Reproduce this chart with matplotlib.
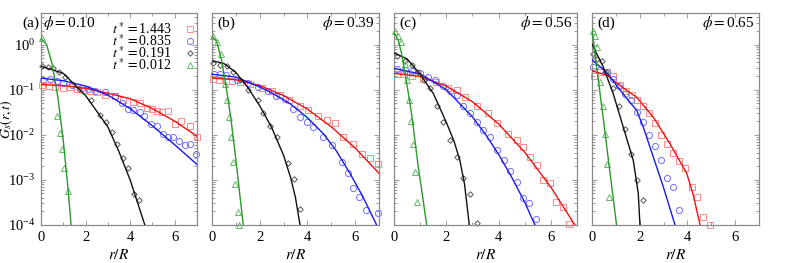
import matplotlib
matplotlib.use("Agg")
import matplotlib.pyplot as plt
from matplotlib.ticker import LogLocator, MultipleLocator, NullFormatter, FixedLocator

plt.rcParams['font.family'] = ['Liberation Serif', 'DejaVu Serif']
plt.rcParams['mathtext.fontset'] = 'stix'

phis = ["0.10", "0.39", "0.56", "0.65"]
panel_labels = ["(a)", "(b)", "(c)", "(d)"]
times = ["1.443", "0.835", "0.191", "0.012"]

# ---------------- panel (a) ----------------
a_red_line_r = [0, 1, 2, 3, 4, 5, 6, 7]
a_red_line_g = [0.129, 0.123, 0.107, 0.083, 0.063, 0.038, 0.02, 0.0093]
a_red_pts_r = [0.05, 0.35, 0.65, 1.0, 1.3, 1.6, 1.9, 2.2, 2.5, 2.87, 3.32, 3.7, 4.14, 4.44, 4.74, 4.96, 5.19, 5.41, 5.71, 6.0, 6.3, 6.68, 6.98]
a_red_pts_g = [0.129, 0.12, 0.112, 0.11, 0.112, 0.105, 0.1, 0.095, 0.089, 0.078, 0.071, 0.059, 0.052, 0.05, 0.04, 0.038, 0.033, 0.032, 0.033, 0.017, 0.02, 0.0155, 0.0089]
a_blue_line_r = [0, 1, 2, 3, 4, 5, 6, 7]
a_blue_line_g = [0.18, 0.158, 0.12, 0.076, 0.038, 0.0158, 0.006, 0.0022]
a_blue_pts_r = [0.1, 0.4, 0.7, 1.0, 1.4, 1.82, 2.1, 2.42, 2.87, 3.3, 3.64, 3.92, 4.14, 4.44, 4.63, 4.93, 5.19, 5.46, 5.71, 5.93, 6.2, 6.46, 6.68, 6.95]
a_blue_pts_g = [0.166, 0.17, 0.158, 0.138, 0.126, 0.11, 0.102, 0.095, 0.087, 0.071, 0.05, 0.038, 0.035, 0.032, 0.026, 0.017, 0.016, 0.0102, 0.0089, 0.0089, 0.0072, 0.0059, 0.0063, 0.0037]
a_black_line_r = [0, 1, 2, 3, 3.5, 4, 4.3, 4.66]
a_black_line_g = [0.33, 0.23, 0.074, 0.015, 0.0042, 0.001, 0.00035, 0.0001]
a_black_pts_r = [0.05, 0.3, 0.55, 0.8, 1.08, 1.7, 2.23, 2.65, 2.92, 3.17, 3.42, 3.66, 3.92, 4.17, 4.41]
a_black_pts_g = [0.34, 0.32, 0.30, 0.25, 0.19, 0.105, 0.058, 0.027, 0.019, 0.0115, 0.0062, 0.003, 0.0018, 0.00048, 0.00035]
a_green_line_r = [0, 0.25, 0.5, 0.75, 1.0, 1.2, 1.35]
a_green_line_g = [1.38, 1.0, 0.37, 0.072, 0.0074, 0.00074, 0.0001]
a_green_pts_r = [0.03, 0.73, 0.85, 0.93, 1.05, 1.2]
a_green_pts_g = [1.38, 0.026, 0.011, 0.0049, 0.0018, 0.00058]

# ---------------- panel (b) ----------------
b_red_line_r = [0, 1, 2, 3, 4, 5, 6, 7]
b_red_line_g = [0.18, 0.166, 0.123, 0.074, 0.037, 0.015, 0.0051, 0.0014]
b_red_pts_r = [0.05, 0.3, 0.6, 0.85, 1.17, 1.59, 2.08, 2.5, 2.85, 3.24, 3.69, 4.03, 4.46, 4.8, 5.15, 5.5, 5.92, 6.27, 6.62, 6.97]
b_red_pts_g = [0.17, 0.166, 0.158, 0.155, 0.15, 0.135, 0.11, 0.093, 0.078, 0.058, 0.043, 0.035, 0.026, 0.021, 0.018, 0.0091, 0.0062, 0.0038, 0.003, 0.0022]
b_blue_line_r = [0, 1, 1.87, 2.5, 3.27, 4, 4.67, 5.2, 5.78, 6.3, 6.9]
b_blue_line_g = [0.22, 0.19, 0.123, 0.085, 0.049, 0.024, 0.0105, 0.0045, 0.0014, 0.00045, 0.0001]
b_blue_pts_r = [0.1, 0.35, 0.6, 1.03, 1.5, 1.94, 2.36, 2.68, 3.06, 3.41, 3.69, 3.97, 4.25, 4.66, 5.01, 5.43, 5.71, 5.92, 6.17, 6.45, 6.97]
b_blue_pts_g = [0.22, 0.22, 0.21, 0.16, 0.14, 0.112, 0.095, 0.074, 0.063, 0.038, 0.025, 0.019, 0.015, 0.0089, 0.0059, 0.0025, 0.0014, 0.00065, 0.00042, 0.00021, 0.00018]
b_black_line_r = [0, 0.5, 1.0, 1.5, 2.0, 2.5, 3.0, 3.3, 3.5, 3.69]
b_black_line_g = [0.44, 0.38, 0.24, 0.112, 0.044, 0.0145, 0.0035, 0.0011, 0.0004, 0.0001]
b_black_pts_r = [0.06, 0.34, 0.61, 0.9, 1.17, 1.52, 1.94, 2.15, 2.43, 2.71, 3.2, 3.44, 3.69]
b_black_pts_g = [0.38, 0.36, 0.34, 0.25, 0.16, 0.1, 0.058, 0.03, 0.016, 0.0089, 0.0024, 0.00105, 0.00023]
b_green_line_r = [0, 0.2, 0.4, 0.6, 0.8, 1.0, 1.15, 1.31]
b_green_line_g = [1.55, 1.15, 0.45, 0.11, 0.021, 0.0028, 0.00056, 0.0001]
b_green_pts_r = [0.03, 0.2, 0.36, 0.54, 0.64, 0.73, 0.81, 0.89, 0.96, 1.08, 1.15]
b_green_pts_g = [1.58, 1.12, 0.62, 0.135, 0.058, 0.025, 0.0089, 0.0025, 0.00083, 0.00019, 0.000102]

# ---------------- panel (c) ----------------
c_red_line_r = [0, 1, 2, 3, 4, 5, 6, 6.92]
c_red_line_g = [0.23, 0.195, 0.12, 0.054, 0.0174, 0.0041, 0.00069, 0.0001]
c_red_pts_r = [0.1, 0.4, 0.7, 1.12, 1.6, 2.08, 2.4, 2.72, 3.19, 3.61, 3.93, 4.37, 4.69, 4.95, 5.2, 5.46, 5.71, 5.97, 6.2, 6.46, 6.71]
c_red_pts_g = [0.219, 0.219, 0.2, 0.174, 0.151, 0.11, 0.1, 0.068, 0.043, 0.03, 0.018, 0.0105, 0.0078, 0.0054, 0.0032, 0.0021, 0.00098, 0.00085, 0.00032, 0.00025, 0.000105]
c_blue_line_r = [0, 1, 2, 3, 3.5, 4, 4.5, 5, 5.39]
c_blue_line_g = [0.295, 0.224, 0.1, 0.025, 0.0102, 0.0037, 0.00115, 0.00032, 0.0001]
c_blue_pts_r = [0.1, 0.42, 0.68, 0.99, 1.31, 1.56, 1.89, 2.14, 2.4, 2.65, 2.91, 3.16, 3.42, 3.67, 3.93, 4.21, 4.44, 4.7, 4.93, 5.18, 5.43]
c_blue_pts_g = [0.28, 0.275, 0.263, 0.229, 0.186, 0.166, 0.123, 0.095, 0.078, 0.043, 0.03, 0.019, 0.013, 0.0089, 0.0046, 0.0028, 0.0016, 0.00091, 0.00039, 0.00031, 0.000135]
c_black_line_r = [0, 0.5, 1.0, 1.5, 2.0, 2.3, 2.52, 2.7, 2.88]
c_black_line_g = [0.65, 0.48, 0.22, 0.083, 0.019, 0.0071, 0.0027, 0.00079, 0.0001]
c_black_pts_r = [0.1, 0.42, 0.68, 0.93, 1.15, 1.38, 1.66, 1.89, 2.14, 2.42, 2.65, 2.9, 3.16]
c_black_pts_g = [0.56, 0.44, 0.35, 0.24, 0.166, 0.11, 0.043, 0.019, 0.0078, 0.0032, 0.0011, 0.00048, 0.000112]
c_green_line_r = [0, 0.17, 0.29, 0.42, 0.55, 0.68, 0.8, 0.93, 1.06, 1.25]
c_green_line_g = [1.86, 1.21, 0.62, 0.24, 0.081, 0.027, 0.0076, 0.0019, 0.00059, 0.0001]
c_green_pts_r = [0.02, 0.17, 0.26, 0.42, 0.49, 0.57, 0.64, 0.74, 0.8, 0.89]
c_green_pts_g = [1.95, 1.55, 1.12, 0.37, 0.16, 0.059, 0.02, 0.0062, 0.0015, 0.00033]

# ---------------- panel (d) ----------------
d_red_line_r = [0, 0.62, 1.17, 1.87, 2.57, 3.27, 3.97, 4.25, 4.53]
d_red_line_g = [0.26, 0.21, 0.123, 0.068, 0.0245, 0.0063, 0.0014, 0.00045, 0.0001]
d_red_pts_r = [0.08, 0.35, 0.62, 0.89, 1.17, 1.43, 1.66, 1.9, 2.15, 2.4, 2.64, 2.89, 3.16, 3.41, 3.66, 3.9, 4.18, 4.41, 4.66, 4.95]
d_red_pts_g = [0.2, 0.24, 0.25, 0.2, 0.129, 0.095, 0.078, 0.06, 0.043, 0.03, 0.018, 0.0098, 0.0063, 0.004, 0.0026, 0.0018, 0.00068, 0.00041, 0.00015, 0.0001]
d_blue_line_r = [0, 0.62, 1.03, 1.52, 1.87, 2.15, 2.57, 2.99, 3.48]
d_blue_line_g = [0.46, 0.24, 0.123, 0.058, 0.035, 0.0148, 0.0032, 0.0007, 0.0001]
d_blue_pts_r = [0.06, 0.34, 0.62, 0.87, 1.14, 1.38, 1.62, 1.87, 2.15, 2.4, 2.64, 2.89, 3.16, 3.41, 3.66]
d_blue_pts_g = [0.32, 0.27, 0.24, 0.174, 0.123, 0.081, 0.058, 0.032, 0.019, 0.0098, 0.0055, 0.0028, 0.0011, 0.0007, 0.00021]
d_black_line_r = [0, 0.47, 0.89, 1.31, 1.73, 1.94, 2.01]
d_black_line_g = [1.02, 0.32, 0.081, 0.0148, 0.0027, 0.0005, 0.0001]
d_black_pts_r = [0.06, 0.2, 0.4, 0.6, 0.87, 1.14, 1.38, 1.62, 1.87, 2.12]
d_black_pts_g = [0.62, 0.47, 0.43, 0.25, 0.11, 0.043, 0.0135, 0.0038, 0.001, 0.00035]
d_green_line_r = [0, 0.25, 0.5, 0.75, 1.03]
d_green_line_g = [2.19, 0.19, 0.0174, 0.0015, 0.0001]
d_green_pts_r = [0.04, 0.13, 0.22, 0.34, 0.45, 0.54, 0.62, 0.71]
d_green_pts_g = [2.0, 1.55, 0.87, 0.145, 0.043, 0.0105, 0.0022, 0.00041]

panels = [
    dict(red=(a_red_line_r, a_red_line_g, a_red_pts_r, a_red_pts_g),
         blue=(a_blue_line_r, a_blue_line_g, a_blue_pts_r, a_blue_pts_g),
         black=(a_black_line_r, a_black_line_g, a_black_pts_r, a_black_pts_g),
         green=(a_green_line_r, a_green_line_g, a_green_pts_r, a_green_pts_g)),
    dict(red=(b_red_line_r, b_red_line_g, b_red_pts_r, b_red_pts_g),
         blue=(b_blue_line_r, b_blue_line_g, b_blue_pts_r, b_blue_pts_g),
         black=(b_black_line_r, b_black_line_g, b_black_pts_r, b_black_pts_g),
         green=(b_green_line_r, b_green_line_g, b_green_pts_r, b_green_pts_g)),
    dict(red=(c_red_line_r, c_red_line_g, c_red_pts_r, c_red_pts_g),
         blue=(c_blue_line_r, c_blue_line_g, c_blue_pts_r, c_blue_pts_g),
         black=(c_black_line_r, c_black_line_g, c_black_pts_r, c_black_pts_g),
         green=(c_green_line_r, c_green_line_g, c_green_pts_r, c_green_pts_g)),
    dict(red=(d_red_line_r, d_red_line_g, d_red_pts_r, d_red_pts_g),
         blue=(d_blue_line_r, d_blue_line_g, d_blue_pts_r, d_blue_pts_g),
         black=(d_black_line_r, d_black_line_g, d_black_pts_r, d_black_pts_g),
         green=(d_green_line_r, d_green_line_g, d_green_pts_r, d_green_pts_g)),
]

styles = {
    'red':   dict(line='#ee1111', mcol='#ff8a8a', marker='s', ms=4.2),
    'blue':  dict(line='#1a1aee', mcol='#6f6fff', marker='o', ms=4.4),
    'black': dict(line='#111111', mcol='#555555', marker='D', ms=2.8),
    'green': dict(line='#2a9a2a', mcol='#66b866', marker='^', ms=4.0),
}
order = ['red', 'blue', 'black', 'green']

W, H = 789, 263
fig = plt.figure(figsize=(W / 100, H / 100), dpi=100)
boxes = [(41, 197), (212, 379), (394, 577), (592, 759)]
top_px, bot_px = 13, 225
spine_col = '#8a8a8a'

for i, (l, r) in enumerate(boxes):
    ax = fig.add_axes([l / W, (H - bot_px) / H, (r - l) / W, (bot_px - top_px) / H])
    ax.set_yscale('log')
    ax.set_xlim(0, 7)
    ax.set_ylim(1e-4, 5)
    for key in order:
        lr, lg, pr, pg = panels[i][key]
        st = styles[key]
        ax.plot(lr, lg, '-', color=st['line'], lw=1.0, zorder=3)
        ax.plot(pr, pg, linestyle='none', marker=st['marker'], ms=st['ms'],
                mfc='none', mec=st['mcol'], mew=0.7, zorder=2, clip_on=False)
    for s in ax.spines.values():
        s.set_color(spine_col)
        s.set_linewidth(0.9)
    ax.xaxis.set_major_locator(FixedLocator([0, 2, 4, 6]))
    ax.xaxis.set_minor_locator(MultipleLocator(1))
    ax.yaxis.set_major_locator(LogLocator(base=10, numticks=10))
    ax.yaxis.set_minor_locator(LogLocator(base=10, subs=[2, 3, 4, 5, 6, 7, 8, 9], numticks=20))
    ax.yaxis.set_minor_formatter(NullFormatter())
    ax.tick_params(which='both', direction='in', top=True, right=True, color=spine_col,
                   labelsize=10.5, width=0.6)
    ax.tick_params(which='major', length=3.5, pad=4)
    ax.tick_params(which='minor', length=2)
    ax.set_xlabel(r'$r/R$', fontsize=11, labelpad=3)
    if i == 0:
        ax.set_ylabel(r'$G_s(r,t)$', fontsize=10)
        ax.yaxis.set_label_coords(-0.165, 0.5)
        ax.text(-0.012, 0.953, panel_labels[i], transform=ax.transAxes, fontsize=11,
                ha='right', va='center')
        ax.text(0.01, 0.953, r'$\phi = $' + phis[i], transform=ax.transAxes, fontsize=11,
                ha='left', va='center')
        # legend: text followed by marker, as in the reference
        leg_y = [0.925, 0.868, 0.811, 0.755]
        for key, t, yy in zip(order, times, leg_y):
            st = styles[key]
            ax.text(0.455, yy, r'$t^* = $' + t, transform=ax.transAxes, fontsize=10,
                    ha='left', va='center')
            ax.plot([0.955], [yy], transform=ax.transAxes, linestyle='none',
                    marker=st['marker'], ms=st['ms'], mfc='none', mec=st['mcol'],
                    mew=0.7, clip_on=False)
    else:
        ax.set_yticklabels([])
        ax.text(0.03, 0.953, panel_labels[i], transform=ax.transAxes, fontsize=11,
                ha='left', va='center')
        ax.text(0.975, 0.953, r'$\phi = $' + phis[i], transform=ax.transAxes, fontsize=11,
                ha='right', va='center')

fig.savefig('out.png', dpi=100)
